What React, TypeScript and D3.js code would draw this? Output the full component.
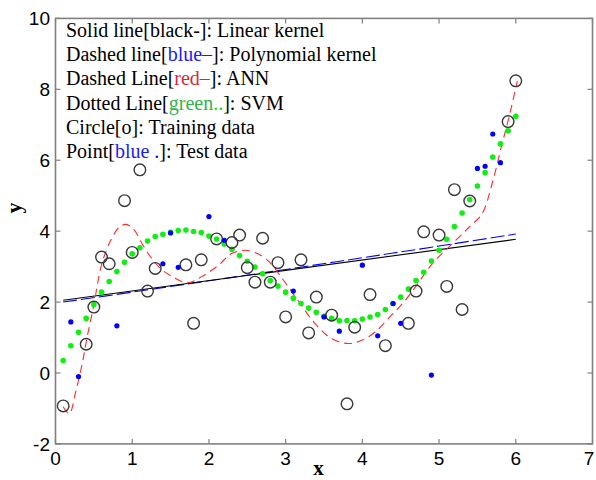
import React from "react";
import * as d3 from "d3";

// Training data (circles)
const trainX = [0.1, 0.4, 0.5, 0.6, 0.7, 0.9, 1.0, 1.1, 1.2, 1.3, 1.7, 1.8, 1.9, 2.1, 2.3, 2.4, 2.5, 2.6, 2.7, 2.8, 2.9, 3.0, 3.2, 3.3, 3.4, 3.6, 3.8, 3.9, 4.1, 4.3, 4.6, 4.7, 4.8, 5.0, 5.1, 5.2, 5.3, 5.4, 5.9, 6.0];
const trainY = [-0.93, 0.81, 1.86, 3.27, 3.08, 4.86, 3.40, 5.73, 2.31, 2.95, 3.05, 1.40, 3.19, 3.78, 3.68, 3.89, 2.97, 2.56, 3.80, 2.56, 3.11, 1.58, 3.19, 1.13, 2.14, 1.63, -0.87, 1.29, 2.21, 0.77, 1.40, 2.31, 3.98, 3.89, 2.44, 5.17, 1.79, 4.85, 7.09, 8.24];

// Test data (blue points)
const testX = [0.2, 0.3, 0.8, 1.4, 1.5, 1.6, 2.0, 2.2, 3.1, 3.5, 3.7, 4.0, 4.2, 4.4, 4.5, 4.9, 5.5, 5.6, 5.7, 5.8];
const testY = [1.44, -0.10, 1.33, 3.08, 3.95, 2.98, 4.41, 3.74, 2.31, 1.58, 1.18, 3.04, 1.05, 1.96, 1.40, -0.06, 5.77, 5.83, 6.74, 5.93];

// SVM prediction (green dotted)
const svmX = [0.1, 0.2, 0.3, 0.4, 0.5, 0.6, 0.7, 0.8, 0.9, 1.0, 1.1, 1.2, 1.3, 1.4, 1.5, 1.6, 1.7, 1.8, 1.9, 2.0, 2.1, 2.2, 2.3, 2.4, 2.5, 2.6, 2.7, 2.8, 2.9, 3.0, 3.1, 3.2, 3.3, 3.4, 3.5, 3.6, 3.7, 3.8, 3.9, 4.0, 4.1, 4.2, 4.3, 4.4, 4.5, 4.6, 4.7, 4.8, 4.9, 5.0, 5.1, 5.2, 5.3, 5.4, 5.5, 5.6, 5.7, 5.8, 5.9, 6.0];
const svmY = [0.35, 0.77, 1.15, 1.54, 1.93, 2.28, 2.58, 2.86, 3.12, 3.36, 3.53, 3.72, 3.85, 3.91, 3.97, 4.02, 4.03, 3.99, 3.96, 3.86, 3.78, 3.64, 3.49, 3.31, 3.15, 2.99, 2.80, 2.61, 2.45, 2.28, 2.11, 1.96, 1.83, 1.71, 1.60, 1.54, 1.47, 1.48, 1.47, 1.52, 1.58, 1.65, 1.79, 1.96, 2.14, 2.37, 2.61, 2.84, 3.16, 3.46, 3.77, 4.13, 4.51, 4.89, 5.27, 5.65, 6.09, 6.46, 6.83, 7.24];

// ANN prediction (red dashed)
const annX = [0.1, 0.18, 0.26, 0.35, 0.41, 0.5, 0.6, 0.72, 0.83, 0.92, 1.03, 1.13, 1.24, 1.37, 1.53, 1.72, 1.9, 2.12, 2.29, 2.46, 2.62, 2.77, 2.94, 3.16, 3.38, 3.6, 3.82, 4.0, 4.17, 4.34, 4.54, 4.7, 4.91, 5.17, 5.39, 5.56, 5.69, 5.82, 5.91, 6.02];
const annY = [-0.95, -1.15, -0.56, 0.28, 0.99, 1.92, 3.05, 3.74, 4.11, 4.19, 4.02, 3.64, 3.27, 2.94, 2.71, 2.54, 2.71, 3.03, 3.36, 3.46, 3.38, 3.17, 2.71, 2.05, 1.40, 0.97, 0.83, 0.93, 1.16, 1.54, 2.0, 2.45, 3.08, 3.64, 4.11, 4.49, 5.33, 6.45, 7.2, 8.23];

// Linear kernel (black solid)
const linX = [0.1, 6.0];
const linY = [2.05, 3.77];

// Polynomial kernel (blue dashed)
const polyX = [0.1, 1, 2, 3, 4, 5, 6.0];
const polyY = [2.0, 2.28, 2.6, 2.92, 3.25, 3.58, 3.92];

const xTicks = [0, 1, 2, 3, 4, 5, 6, 7];
const yTicks = [-2, 0, 2, 4, 6, 8, 10];

const legendLines: { text: string; color: string }[][] = [
  [{ text: "Solid line[black-]: Linear kernel", color: "#000" }],
  [
    { text: "Dashed line[", color: "#000" },
    { text: "blue–", color: "#1a1aff" },
    { text: "]: Polynomial kernel", color: "#000" },
  ],
  [
    { text: "Dashed Line[", color: "#000" },
    { text: "red–", color: "#d42b3a" },
    { text: "]: ANN", color: "#000" },
  ],
  [
    { text: "Dotted Line[", color: "#000" },
    { text: "green", color: "#2fb44a" },
    { text: "..", color: "#11dd11" },
    { text: "]: SVM", color: "#000" },
  ],
  [{ text: "Circle[o]: Training data", color: "#000" }],
  [
    { text: "Point[", color: "#000" },
    { text: "blue ", color: "#1a1aff" },
    { text: ".", color: "#0000ff" },
    { text: "]: Test data", color: "#000" },
  ],
];

const W = 596;
const H = 480;
const L = 55.5;
const R = 592.5;
const T = 18.4;
const B = 443.9;

export default function App() {
  const x = d3.scaleLinear().domain([0, 7]).range([L, R]);
  const y = d3.scaleLinear().domain([-2, 10]).range([B, T]);

  const line = d3
    .line<[number, number]>()
    .x((d) => x(d[0]))
    .y((d) => y(d[1]));
  const smooth = d3
    .line<[number, number]>()
    .x((d) => x(d[0]))
    .y((d) => y(d[1]))
    .curve(d3.curveCatmullRom.alpha(0.5));

  const linPts = linX.map((v, i) => [v, linY[i]] as [number, number]);
  const polyPts = polyX.map((v, i) => [v, polyY[i]] as [number, number]);
  const annPts = annX.map((v, i) => [v, annY[i]] as [number, number]);

  const axisColor = "#808080";
  const tickLen = 5;

  return (
    <svg
      width={W}
      height={H}
      style={{ position: "absolute", left: 0, top: 0, background: "#fff" }}
    >
      <rect x={0} y={0} width={W} height={H} fill="#fff" />
      <defs>
        <clipPath id="plot">
          <rect x={L} y={T} width={R - L} height={B - T} />
        </clipPath>
      </defs>

      <g clipPath="url(#plot)">
        <path
          d={smooth(polyPts) || ""}
          fill="none"
          stroke="#0000ff"
          strokeWidth={1.1}
          strokeDasharray="14,4"
        />
        <path d={line(linPts) || ""} fill="none" stroke="#000" strokeWidth={1.1} />
        <path
          d={smooth(annPts) || ""}
          fill="none"
          stroke="#ff2a2a"
          strokeWidth={1.1}
          strokeDasharray="8,5"
        />
        {svmX.map((v, i) => (
          <circle key={"s" + i} cx={x(v)} cy={y(svmY[i])} r={2.8} fill="#11ee11" />
        ))}
        {trainX.map((v, i) => (
          <circle
            key={"t" + i}
            cx={x(v)}
            cy={y(trainY[i])}
            r={5.8}
            fill="none"
            stroke="#383838"
            strokeWidth={1.4}
          />
        ))}
        {testX.map((v, i) => (
          <circle key={"p" + i} cx={x(v)} cy={y(testY[i])} r={2.6} fill="#0000ff" />
        ))}
      </g>

      {/* Axes box */}
      <rect x={L} y={T} width={R - L} height={B - T} fill="none" stroke={axisColor} strokeWidth={1.6} />
      {xTicks.map((t) => (
        <g key={"xt" + t}>
          <line x1={x(t)} x2={x(t)} y1={B} y2={B - tickLen} stroke={axisColor} strokeWidth={1.2} />
          <line x1={x(t)} x2={x(t)} y1={T} y2={T + tickLen} stroke={axisColor} strokeWidth={1.2} />
          <text
            x={Math.min(x(t), 589)}
            y={465}
            textAnchor="middle"
            fontFamily="'Liberation Sans', Arial, sans-serif"
            fontSize={19}
            fill="#000"
          >
            {t}
          </text>
        </g>
      ))}
      {yTicks.map((t) => (
        <g key={"yt" + t}>
          <line x1={L} x2={L + tickLen} y1={y(t)} y2={y(t)} stroke={axisColor} strokeWidth={1.2} />
          <line x1={R} x2={R - tickLen} y1={y(t)} y2={y(t)} stroke={axisColor} strokeWidth={1.2} />
          <text
            x={50}
            y={y(t)}
            dy="0.36em"
            textAnchor="end"
            fontFamily="'Liberation Sans', Arial, sans-serif"
            fontSize={19}
            fill="#000"
          >
            {t}
          </text>
        </g>
      ))}

      {/* Axis labels */}
      <text
        x={318.5}
        y={475}
        textAnchor="middle"
        fontFamily="'Liberation Serif', 'Times New Roman', serif"
        fontWeight="bold"
        fontSize={21}
        fill="#000"
      >
        x
      </text>
      <text
        transform="translate(21,208) rotate(-90)"
        textAnchor="middle"
        fontFamily="'Liberation Serif', 'Times New Roman', serif"
        fontWeight="bold"
        fontSize={22}
        fill="#000"
      >
        y
      </text>

      {/* Legend text */}
      {legendLines.map((parts, i) => (
        <text
          key={"lg" + i}
          x={66}
          y={37 + i * 24.2}
          fontFamily="'Liberation Serif', 'Times New Roman', serif"
          fontSize={20}
          xmlSpace="preserve"
          style={{ whiteSpace: "pre" }}
        >
          {parts.map((p, j) => (
            <tspan key={j} fill={p.color}>
              {p.text}
            </tspan>
          ))}
        </text>
      ))}
    </svg>
  );
}
